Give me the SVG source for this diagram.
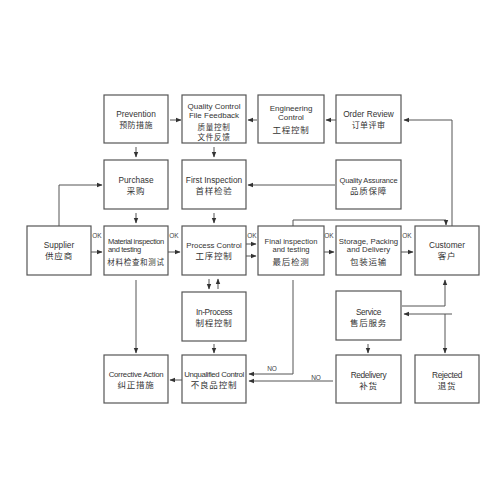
<svg xmlns="http://www.w3.org/2000/svg" width="500" height="500" viewBox="0 0 500 500">
<style>
.b{fill:#fff;stroke:#555;stroke-width:1.2}
.e{font-family:"Liberation Sans",Arial,sans-serif;font-size:8.3px;fill:#333;text-anchor:middle}
.c{font-family:"Noto Sans CJK SC","Liberation Sans",sans-serif;font-size:8.5px;fill:#333;text-anchor:middle;letter-spacing:0.8px}
.k{font-size:8px;letter-spacing:0.4px}
.n{letter-spacing:-0.35px}
.m{font-size:7.6px}
.s{font-family:"Liberation Sans",Arial,sans-serif;font-size:6.5px;fill:#444;text-anchor:middle}
.l{fill:none;stroke:#555;stroke-width:1;marker-end:url(#a)}
</style>
<defs>
<marker id="a" markerUnits="userSpaceOnUse" markerWidth="6" markerHeight="6" viewBox="0 0 6 6" refX="5" refY="3" orient="auto">
<path d="M0,0.8 L5.5,3 L0,5.2 Z" fill="#333"/>
</marker>
</defs>
<rect width="500" height="500" fill="#fff"/>
<g id="connectors">
<path class="l" d="M170,120 H181"/>
<path class="l" d="M257,120 H248"/>
<path class="l" d="M336,120 H326"/>
<path class="l" d="M452,226 V120 H404"/>
<path class="l" d="M136,147 V157"/>
<path class="l" d="M214,147 V157"/>
<path class="l" d="M136,213 V223"/>
<path class="l" d="M214,213 V223"/>
<path class="l" d="M335,185 H248"/>
<path class="l" d="M59,226 V185 H102"/>
<path class="l" d="M91,252 H102"/>
<path class="l" d="M168,252 H180"/>
<path class="l" d="M246,244 H256"/>
<path class="l" d="M246,256 H256"/>
<path class="l" d="M209,279 V289"/>
<path class="l" d="M218,289 V279"/>
<path class="l" d="M214,344 V353"/>
<path class="l" d="M182,380 H170"/>
<path class="l" d="M136,280 V353"/>
<path class="l" d="M293,280 V374 H249"/>
<path class="l" d="M333,381 H249"/>
<path class="l" d="M293,226 V220 H446 V225"/>
<path class="l" d="M324,252 H334"/>
<path class="l" d="M401,252 H413"/>
<path class="l" d="M402,306 H445 V280"/>
<path class="l" d="M452,314 H404"/>
<path class="l" d="M445,314 V353"/>
<path class="l" d="M368,344 V353"/>
<text class="s" x="97" y="238">OK</text>
<text class="s" x="174" y="238">OK</text>
<text class="s" x="252" y="238">OK</text>
<text class="s" x="329" y="238">OK</text>
<text class="s" x="407" y="238">OK</text>
<text class="s" x="272" y="371">NO</text>
<text class="s" x="316" y="380">NO</text>
</g>
<g id="prevention"><rect class="b" x="104" y="95" width="64" height="48"/><text class="e" x="136" y="116.5">Prevention</text><text class="c k" x="136" y="127.5">预防措施</text></g>
<g id="qcfile"><rect class="b" x="182" y="95" width="64" height="48"/><text class="e" x="214" y="108.5" style="font-size:8px">Quality Control</text><text class="e" x="214" y="117.5" style="font-size:8px">File Feedback</text><text class="c" x="214" y="129.5" style="font-size:7.6px;letter-spacing:0.6px">质量控制</text><text class="c" x="214" y="139.5" style="font-size:7.6px;letter-spacing:0.6px">文件反馈</text></g>
<g id="engineering"><rect class="b" x="258" y="95" width="66" height="48"/><text class="e" x="291" y="111" style="font-size:8px">Engineering</text><text class="e" x="291" y="120" style="font-size:8px">Control</text><text class="c" x="291" y="132.5">工程控制</text></g>
<g id="orderreview"><rect class="b" x="336" y="95" width="65" height="48"/><text class="e" x="368.5" y="116.5">Order Review</text><text class="c k" x="368.5" y="127.5">订单评审</text></g>
<g id="purchase"><rect class="b" x="104" y="160" width="64" height="49"/><text class="e" x="136" y="182.5">Purchase</text><text class="c" x="136" y="193.5">采购</text></g>
<g id="firstinspection"><rect class="b" x="182" y="160" width="64" height="49"/><text class="e" x="214" y="182.5">First Inspection</text><text class="c" x="214" y="193.5">首样检验</text></g>
<g id="qa"><rect class="b" x="336" y="160" width="65" height="49"/><text class="e" x="368.5" y="182.5" style="font-size:7.5px;letter-spacing:-0.15px">Quality Assurance</text><text class="c" x="368.5" y="193.5">品质保障</text></g>
<g id="supplier"><rect class="b" x="27" y="226" width="64" height="49"/><text class="e" x="59" y="247.5">Supplier</text><text class="c" x="59" y="258.5">供应商</text></g>
<g id="material"><rect class="b" x="104" y="226" width="64" height="49"/><text class="e n" x="108" y="243.5" style="text-anchor:start;font-size:7.5px">Material inspection</text><text class="e n" x="108" y="251.5" style="text-anchor:start;font-size:7.5px">and testing</text><text class="c" x="136" y="265" style="font-size:7.5px;letter-spacing:0.7px">材料检查和测试</text></g>
<g id="processcontrol"><rect class="b" x="182" y="226" width="64" height="49"/><text class="e" x="214" y="248" style="font-size:7.8px">Process Control</text><text class="c" x="214" y="259">工序控制</text></g>
<g id="final"><rect class="b" x="258" y="226" width="66" height="49"/><text class="e m" x="291" y="243.5">Final inspection</text><text class="e m" x="291" y="251.5">and testing</text><text class="c" x="291" y="264.5">最后检测</text></g>
<g id="storage"><rect class="b" x="336" y="226" width="65" height="49"/><text class="e" x="368.5" y="243.5" style="font-size:7.8px">Storage, Packing</text><text class="e" x="368.5" y="251.5" style="font-size:7.8px">and Delivery</text><text class="c" x="368.5" y="264.5">包装运输</text></g>
<g id="customer"><rect class="b" x="415" y="226" width="64" height="49"/><text class="e" x="447" y="248">Customer</text><text class="c" x="447" y="259">客户</text></g>
<g id="inprocess"><rect class="b" x="182" y="292" width="64" height="49"/><text class="e n" x="214" y="314.5">In-Process</text><text class="c" x="214" y="325.5">制程控制</text></g>
<g id="service"><rect class="b" x="336" y="291" width="65" height="49"/><text class="e n" x="368.5" y="314.5">Service</text><text class="c" x="368.5" y="325.5">售后服务</text></g>
<g id="corrective"><rect class="b" x="104" y="355" width="64" height="48"/><text class="e" x="136" y="376.5" style="font-size:7.8px;letter-spacing:-0.25px">Corrective Action</text><text class="c" x="136" y="388">纠正措施</text></g>
<g id="unqualified"><rect class="b" x="182" y="355" width="64" height="48"/><text class="e n" x="214" y="376.5" style="font-size:7.8px">Unqualified  Control</text><text class="c" x="214" y="388">不良品控制</text></g>
<g id="redelivery"><rect class="b" x="336" y="355" width="65" height="48"/><text class="e n" x="368.5" y="377.5">Redelivery</text><text class="c" x="368.5" y="388.5">补货</text></g>
<g id="rejected"><rect class="b" x="415" y="355" width="64" height="48"/><text class="e n" x="447" y="377.5">Rejected</text><text class="c" x="447" y="388.5">退货</text></g>
</svg>
